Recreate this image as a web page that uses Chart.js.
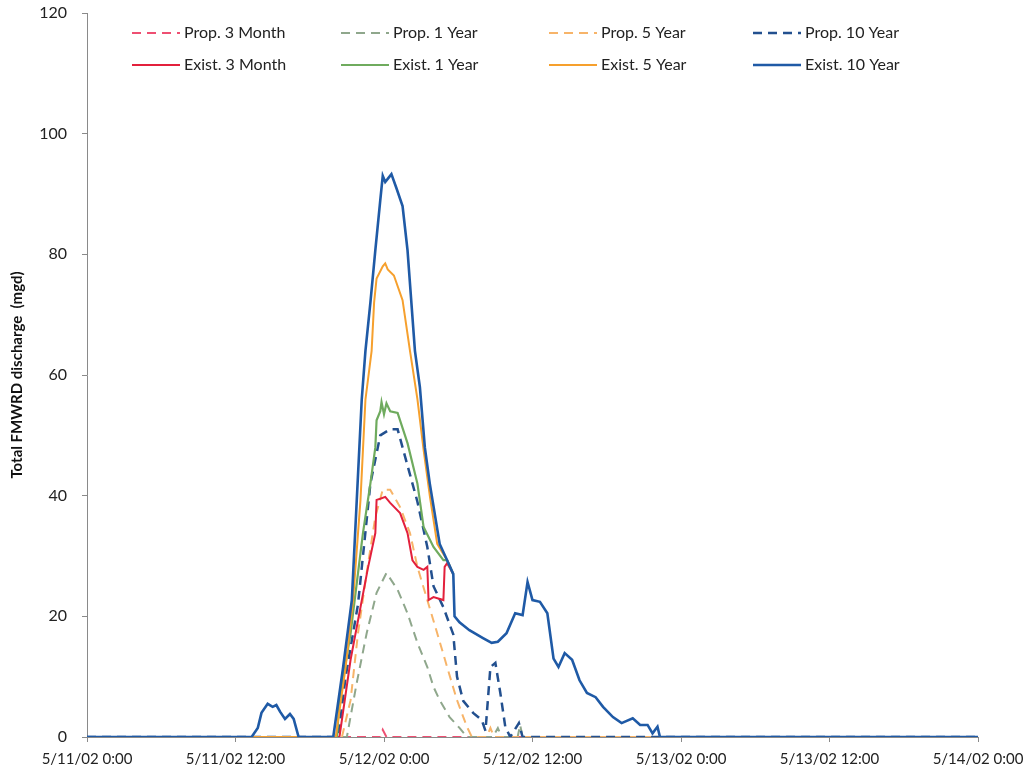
<!DOCTYPE html>
<html>
<head>
<meta charset="utf-8">
<title>Total FMWRD discharge</title>
<script src="https://cdn.jsdelivr.net/npm/chart.js@4.4.1/dist/chart.umd.min.js"></script>
<style>
    html, body { margin: 0; padding: 0; background: #fff; }
    #wrap { width: 1032px; height: 782px; }
</style>
</head>
<body>
<div id="wrap"><canvas id="dischargeChart" width="1032" height="782"></canvas></div>
<script>
// hours since 5/11/02 0:00 and discharge (mgd) for each run
const prop3mHours  = [0, 23.7, 23.9, 24.2, 72];
const prop3mValues = [0, 0, 1.2, 0, 0];

const prop1yHours  = [0, 21.0, 21.8, 22.6, 23.4, 24.2, 25.1, 25.9, 26.7, 27.5, 28.0, 28.5, 29.3, 30.1, 30.7, 32.8, 33.2, 33.5, 34.8, 35.0, 35.2, 72];
const prop1yValues = [0, 0, 9, 17.2, 23.9, 27.2, 24.4, 20.5, 15.6, 11.6, 8.3, 6.1, 3.3, 1.5, 0, 0, 1.5, 0, 0, 2, 0, 0];

const prop5yHours  = [0, 20.6, 21.3, 21.9, 22.6, 23.3, 23.9, 24.5, 25.3, 26.1, 26.7, 27.5, 28.3, 29.1, 29.9, 30.7, 31.1, 32.3, 32.6, 32.9, 72];
const prop5yValues = [0, 0, 6.1, 17.2, 27.2, 36.5, 41, 41, 38.1, 33.8, 28.2, 22.7, 17.2, 11.6, 6.1, 1.7, 0, 0, 1.5, 0, 0];

const prop10yHours  = [0, 20.3, 20.9, 21.9, 22.9, 23.7, 24.5, 25.1, 25.9, 26.7, 27.5, 28.0, 28.8, 29.6, 29.9, 30.4, 31.2, 31.9, 32.2, 32.6, 33.0, 33.4, 33.8, 34.2, 34.9, 35.2, 72];
const prop10yValues = [0, 0, 10, 22, 42, 50, 51, 51, 45, 39, 31.5, 25, 21.5, 17, 10, 6, 4, 2.8, 1, 11.6, 12.3, 7.3, 1.7, 0, 2.3, 0, 0];

const exist3mHours  = [0, 20.4, 21.3, 22.1, 22.7, 23.3, 23.4, 23.7, 24.1, 24.5, 25.3, 25.9, 26.3, 26.7, 27.2, 27.5, 27.6, 28.0, 28.8, 28.9, 29.1, 29.6];
const exist3mValues = [0, 0, 12.8, 21.5, 28, 33.8, 39.3, 39.5, 39.8, 38.8, 37.1, 33.8, 29.3, 28.2, 27.7, 28.2, 22.7, 23.2, 22.7, 28.2, 28.8, 27];

const exist1yHours  = [0, 20.2, 20.4, 21.3, 21.8, 22.3, 22.9, 23.3, 23.4, 23.7, 23.8, 24.0, 24.2, 24.5, 25.1, 25.9, 26.7, 27.2, 28.0, 28.8, 29.1, 29.6];
const exist1yValues = [0, 0, 6.1, 17.2, 25.5, 33.8, 42, 48, 52.5, 54, 55.5, 53.5, 55.3, 54, 53.7, 48.7, 42, 34.8, 31.5, 29.3, 29.3, 27];

const exist5yHours  = [0, 20.1, 20.9, 21.5, 22.1, 22.3, 22.5, 23.0, 23.2, 23.4, 23.9, 24.1, 24.3, 24.8, 25.5, 26.1, 26.7, 27.2, 27.7, 28.3, 29.1, 29.6];
const exist5yValues = [0, 0, 11.6, 22.7, 39.3, 47.6, 55.9, 64, 72, 76, 78, 78.5, 77.5, 76.5, 72.4, 64, 56, 47.6, 40, 32, 29.3, 27];

const exist10yHours  = [0, 13.3, 13.8, 14.1, 14.6, 15.0, 15.3, 15.6, 16.0, 16.4, 16.7, 17.1, 19.9, 20.7, 21.4, 21.8, 22.2, 22.5, 22.9, 23.3, 23.7, 23.9, 24.1, 24.3, 24.6, 25.0, 25.5, 25.9, 26.5, 26.9, 27.3, 27.7, 28.5, 29.1, 29.6, 29.7, 30.1, 30.9, 32.0, 32.7, 33.2, 33.9, 34.6, 35.2, 35.6, 36.0, 36.6, 37.2, 37.7, 38.1, 38.6, 39.2, 39.8, 40.4, 41.1, 41.7, 42.5, 43.2, 44.1, 44.7, 45.3, 45.7, 46.1, 46.3, 72];
const exist10yValues = [0, 0, 1.5, 4, 5.5, 5, 5.3, 4.2, 3, 3.8, 3, 0, 0, 11.6, 22.7, 39.3, 55.9, 64, 72, 80.7, 89, 93, 92, 92.5, 93.3, 91, 88, 80.7, 64, 58, 48, 42, 32, 29.3, 27, 20, 19, 17.7, 16.4, 15.6, 15.8, 17.2, 20.5, 20.2, 25.7, 22.7, 22.4, 20.5, 13, 11.6, 13.9, 12.8, 9.4, 7.3, 6.6, 5, 3.3, 2.3, 3.1, 2, 2, 0.6, 1.7, 0, 0];

const seriesNames = ['Prop. 3 Month', 'Prop. 1 Year', 'Prop. 5 Year', 'Prop. 10 Year',
                     'Exist. 3 Month', 'Exist. 1 Year', 'Exist. 5 Year', 'Exist. 10 Year'];
const yTicks = [0, 20, 40, 60, 80, 100, 120];
const xTickLabels = ['5/11/02 0:00', '5/11/02 12:00', '5/12/02 0:00', '5/12/02 12:00',
                     '5/13/02 0:00', '5/13/02 12:00', '5/14/02 0:00'];

const hourSets  = [prop3mHours, prop1yHours, prop5yHours, prop10yHours, exist3mHours, exist1yHours, exist5yHours, exist10yHours];
const valueSets = [prop3mValues, prop1yValues, prop5yValues, prop10yValues, exist3mValues, exist1yValues, exist5yValues, exist10yValues];
const colors = ['#ee4f72', '#8fa78c', '#f7b469', '#23508f', '#e3203c', '#6fab5e', '#f6a02d', '#1f5aa6'];
const dashes = [[9, 6], [9, 6], [9, 6], [9, 6], [], [], [], []];
const widths = [2, 2, 2, 2.5, 2, 2.2, 2, 2.6];

function toPoints(hours, values) {
    return hours.map((h, i) => ({ x: h, y: values[i] }));
}

const datasets = seriesNames.map((name, i) => ({
    label: name,
    data: toPoints(hourSets[i], valueSets[i]),
    borderColor: colors[i],
    borderWidth: widths[i],
    borderDash: dashes[i],
    pointRadius: 0,
    tension: 0,
    fill: false,
    order: seriesNames.length - i   // later series on top
}));

// legend as a 4 x 2 grid inside the plot
const gridLegend = {
    id: 'gridLegend',
    afterDraw(chart) {
        const c = chart.ctx;
        const area = chart.chartArea;
        const colX = [45, 254, 462, 666];
        const rowY = [33, 65];
        c.save();
        c.font = '16px Lato';
        c.textBaseline = 'middle';
        c.fillStyle = '#222';
        seriesNames.forEach((name, i) => {
            const x = area.left + colX[i % 4];
            const y = rowY[Math.floor(i / 4)];
            c.strokeStyle = colors[i];
            c.lineWidth = widths[i];
            c.setLineDash(dashes[i]);
            c.beginPath();
            c.moveTo(x, y);
            c.lineTo(x + 48, y);
            c.stroke();
            c.setLineDash([]);
            c.fillText(name, x + 52, y);
        });
        c.restore();
    }
};

const ctx = document.getElementById('dischargeChart').getContext('2d');
const dischargeChart = new Chart(ctx, {
    type: 'line',
    data: { datasets: datasets },
    options: {
        responsive: false,
        animation: false,
        layout: { padding: { top: 13, right: 54, left: 0, bottom: 0 } },
        plugins: {
            legend: { display: false },
            tooltip: { enabled: false }
        },
        scales: {
            x: {
                type: 'linear',
                min: 0,
                max: 72,
                afterFit: (scale) => { scale.height = 45; },
                afterBuildTicks: (scale) => {
                    scale.ticks = xTickLabels.map((t, i) => ({ value: i * 12 }));
                },
                ticks: {
                    autoSkip: false,
                    maxRotation: 0,
                    padding: 8,
                    color: '#222',
                    font: { family: 'Lato', size: 15 },
                    callback: (v) => xTickLabels[v / 12]
                },
                grid: { drawOnChartArea: false, tickLength: 5, color: '#8a8a8a' },
                border: { color: '#8a8a8a', width: 1 }
            },
            y: {
                min: 0,
                max: 120,
                afterFit: (scale) => {
                    scale.width = 87;
                    scale.paddingTop = 0;
                    scale.paddingBottom = 0;
                },
                afterBuildTicks: (scale) => {
                    scale.ticks = yTicks.map(v => ({ value: v }));
                },
                ticks: {
                    padding: 15,
                    color: '#222',
                    font: { family: 'Lato', size: 16 }
                },
                grid: { drawOnChartArea: false, tickLength: 5, color: '#8a8a8a' },
                border: { color: '#8a8a8a', width: 1 },
                title: {
                    display: true,
                    text: 'Total FMWRD discharge  (mgd)',
                    color: '#111',
                    font: { family: 'Lato', size: 15, weight: 'bold' },
                    padding: { top: 8, bottom: 0 }
                }
            }
        }
    },
    plugins: [gridLegend]
});
</script>
</body>
</html>
